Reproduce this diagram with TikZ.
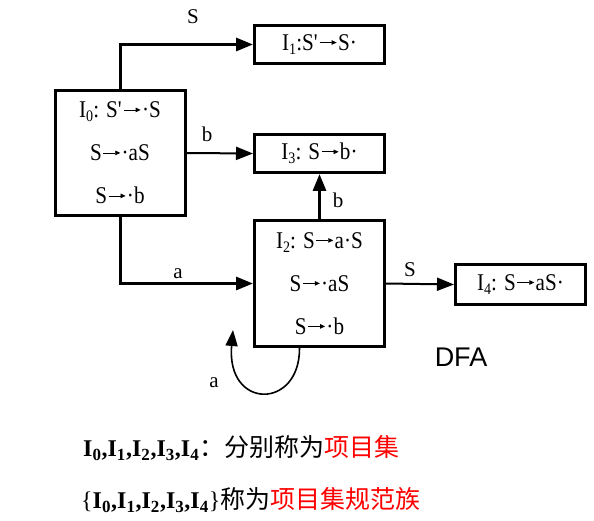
\documentclass[tikz,border=0pt]{standalone}
\usepackage{fontspec}
\setmainfont{Liberation Serif}
\newfontfamily\boxfont[FakeStretch=0.88]{Liberation Serif}
\newfontfamily\cjk{Noto Sans CJK SC}
\newfontfamily\dfafont{Liberation Sans}
\usetikzlibrary{arrows.meta, positioning}

% subscript index for item sets
\newcommand{\idx}[1]{\raisebox{-4pt}{\fontsize{16}{16}\selectfont #1}}
\newcommand{\bidx}[1]{\raisebox{-4pt}{\fontsize{17}{17}\selectfont #1}\kern0.6pt}
% small production arrow
\newcommand{\arr}{\hspace{1pt}\tikz[baseline=-0.33em]\draw[-{Triangle[length=5pt, width=4.5pt]}, line width=0.8pt] (0pt,0pt) -- (17pt,0pt);\hspace{1pt}}
\newcommand{\pr}{\textquotesingle}

\begin{document}
\begin{tikzpicture}[x=1pt, y=-1pt, >={Triangle[length=17pt, width=13pt]},
      state/.style={draw, line width=3pt, minimum width=130pt, inner sep=0pt,
                    font=\boxfont\fontsize{24}{43}\selectfont, align=center},
      edge/.style={->, line width=3pt},
      thinedge/.style={->, line width=2pt},
      lbl/.style={font=\fontsize{21}{21}\selectfont}]

    % bounding box as large as the reference
    \useasboundingbox (0,0) rectangle (594,521);

    % item sets
    \node[state, minimum height=125pt] (I0) at (120,153)
        {I\idx{0}: S\pr\arr·S\\S\arr·aS\\S\arr·b};
    \node[state, minimum height=38pt] (I1) at (319.5,44.5) {I\idx{1}:S\pr\arr S·};
    \node[state, minimum height=38pt] (I3) at (319.5,153.5) {I\idx{3}: S\arr b·};
    \node[state, minimum height=126pt] (I2) at (319.5,283.5)
        {I\idx{2}: S\arr a·S\\S\arr·aS\\S\arr·b};
    \node[state, minimum height=40pt] (I4) at (520.5,284.5) {I\idx{4}: S\arr aS·};

    % transitions
    \draw[edge] (I0.north) |- (I1.west);
    \node[lbl] (lS1) at (193,17) {S};
    \draw[thinedge] (I0.east) -- (I3.west);
    \node[lbl] (lb1) at (207,134) {b};
    \draw[edge] (I2.north) -- (I3.south);
    \node[lbl] (lb2) at (338,200) {b};
    \draw[edge] (I0.south) |- (I2.west);
    \node[lbl] (la1) at (178,274) {a};
    \draw[thinedge] (I2.east) -- (I4.west);
    \node[lbl] (lS2) at (410,270) {S};

    % self loop on I2
    \coordinate (loopEnd) at (233,330);
    \draw[->, line width=1.6pt, >={Triangle[length=16pt, width=12pt]}]
        ([xshift=-20pt]I2.south) .. controls (300,410) and (226,410) .. (loopEnd);
    \node[lbl] (la2) at (214,383) {a};

    \node[font=\dfafont\fontsize{27}{27}\selectfont] (dfa) at (461,357) {DFA};

    % notes
    \node[anchor=west, inner sep=0pt, font=\fontsize{24}{24}\selectfont] (note1) at (83,448)
        {\textbf{I\bidx{0},I\bidx{1},I\bidx{2},I\bidx{3},I\bidx{4}}{\cjk\fontsize{25}{25}\selectfont ：分别称为\textcolor{red}{项目集}}};
    \node[anchor=west, inner sep=0pt, font=\fontsize{24}{24}\selectfont] (note2) at (81,500)
        {\{\textbf{I\bidx{0},I\bidx{1},I\bidx{2},I\bidx{3},I\bidx{4}}\}{\cjk\fontsize{25}{25}\selectfont 称为\textcolor{red}{项目集规范族}}};

\end{tikzpicture}
\end{document}
